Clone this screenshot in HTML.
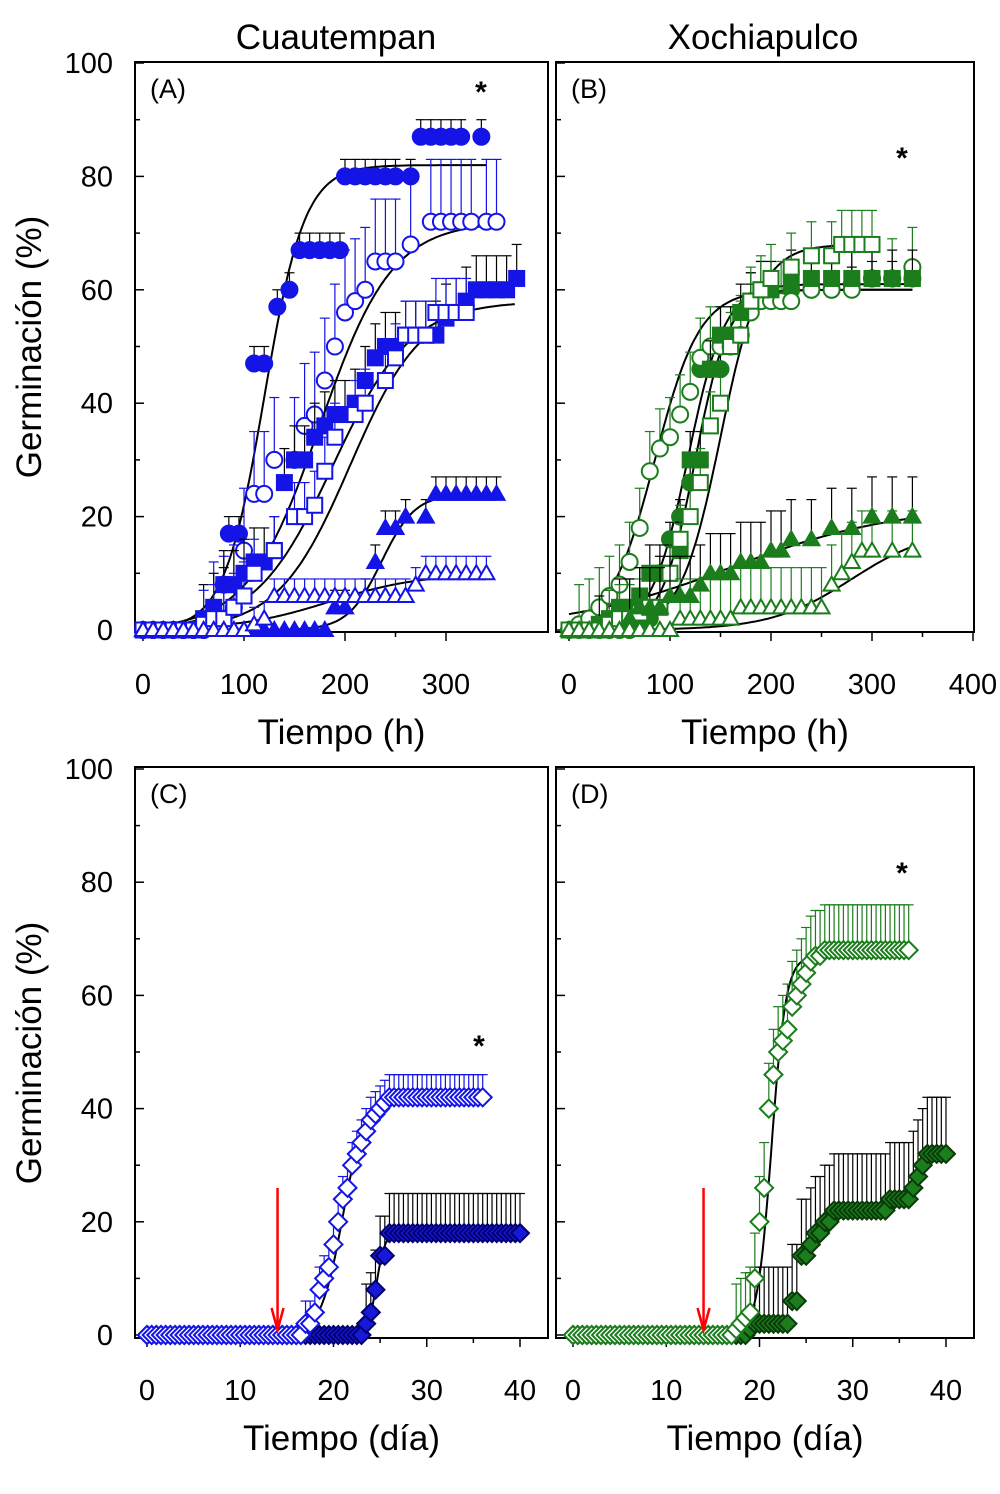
<!DOCTYPE html>
<html><head><meta charset="utf-8"><style>
body{margin:0;background:#fff}
svg text{font-family:"Liberation Sans",Arial,sans-serif}
</style></head><body>
<svg id="chart" width="1000" height="1489" viewBox="0 0 1000 1489" xmlns="http://www.w3.org/2000/svg"></svg>
<script>
// ---------- data ----------
const tA1=[0,10,20,30,40,50,60,70,80,85,95,110,120,133,145,155,165,175,185,195,200,210,220,230,240,250,265,275,285,295,305,315,335];
const yA1=[0,0,0,0,0,0,0,1,8,17,17,47,47,57,60,67,67,67,67,67,80,80,80,80,80,80,80,87,87,87,87,87,87];
const tA2=[0,10,20,30,40,50,60,70,80,90,100,110,120,130,150,160,170,180,190,200,210,220,230,240,250,265,285,295,305,315,325,340,350];
const yA2=[0,0,0,0,0,0,0,1,2,4,14,24,24,30,30,36,38,44,50,56,58,60,65,65,65,68,72,72,72,72,72,72,72];
const tA3=[0,10,20,30,40,50,60,70,80,90,100,110,120,130,140,150,160,170,180,190,200,210,220,230,240,250,260,270,280,290,300,310,320,330,340,350,360,370];
const yA3=[0,0,0,0,0,0,2,4,8,8,10,12,12,14,26,30,30,34,36,38,38,40,44,48,50,50,52,52,52,52,55,56,58,60,60,60,60,62];
const tA4=[0,10,20,30,40,50,60,70,80,90,100,110,130,150,160,170,180,190,210,220,240,250,260,270,280,290,300,310,320];
const yA4=[0,0,0,0,0,0,1,2,2,4,6,10,14,20,20,22,28,34,38,40,44,48,52,52,52,56,56,56,56];
const tA5=[0,10,20,30,40,50,60,70,80,90,100,110,120,130,140,150,160,170,180,190,200,220,230,240,250,260,280,290,300,310,320,330,340,350];
const yA5=[0,0,0,0,0,0,0,0,0,0,0,0,0,0,0,0,0,0,0,4,4,6,12,18,18,20,20,24,24,24,24,24,24,24];
const tA6=[0,10,20,30,40,50,60,70,80,90,100,110,120,130,140,150,160,170,180,190,200,210,220,230,240,250,260,270,280,290,300,310,320,330,340];
const yA6=[0,0,0,0,0,0,0,0,0,0,0,1,2,6,6,6,6,6,6,6,6,6,6,6,6,6,6,8,10,10,10,10,10,10,10];
const tB1=[0,10,20,30,40,50,60,70,80,90,100,110,120,130,140,150,160,170,180,190,200,220,240,260,280,300,320,340];
const yB1=[0,0,0,0,0,0,0,1,2,10,16,20,26,46,46,46,50,52,58,58,59,60,60,60,61,62,62,62];
const tB2=[0,10,20,30,40,50,60,70,80,90,100,110,120,130,140,150,160,170,180,190,200,210,220,240,260,280,300,320,340];
const yB2=[0,1,2,4,6,8,12,18,28,32,34,38,42,48,50,50,50,52,56,58,58,58,58,60,60,60,62,62,64];
const tB3=[0,10,20,30,40,50,60,70,80,90,100,110,120,130,140,150,160,170,180,190,200,220,240,260,280,300,320,340];
const yB3=[0,0,0,1,2,4,4,6,10,10,10,14,30,30,46,52,52,56,58,60,60,62,62,62,62,62,62,62];
const tB4=[0,10,20,30,40,50,60,70,80,90,100,110,120,130,140,150,160,170,180,190,200,220,240,260,270,280,290,300];
const yB4=[0,0,0,0,1,2,2,3,4,4,10,16,20,26,36,40,50,52,58,60,62,64,66,66,68,68,68,68];
const tB5=[0,10,20,30,40,50,60,70,80,90,100,110,120,130,140,150,160,170,180,190,200,210,220,240,260,280,300,320,340];
const yB5=[0,0,0,0,0,0,2,4,4,4,6,6,6,8,10,10,10,12,12,12,14,14,16,16,18,18,20,20,20];
const tB6=[0,10,20,30,40,50,60,70,80,90,100,110,120,130,140,150,160,170,180,190,200,210,220,230,240,250,260,270,280,290,300,320,340];
const yB6=[0,0,0,0,0,0,0,0,0,0,0,2,2,2,2,2,2,4,4,4,4,4,4,4,4,4,8,10,12,14,14,14,14];
const tC1=[];const yC1=[];
const tC2=[];const yC2=[];
const tD1=[];const yD1=[];
const tD2=[];const yD2=[];
const cC1=[[0,0],[16.5,0],[17,2],[17.5,2],[18,4],[18.5,8],[19,10],[19.5,12],[20,16],[20.5,20],[21,24],[21.5,26],[22,30],[22.5,32],[23,34],[23.5,36],[24,38],[24.5,39],[25,40],[25.5,41],[26,42],[36,42]];
const cC2=[[0,0],[23,0],[23.5,2],[24,4],[24.5,8],[25,14],[25.5,14],[26,18],[40,18]];
const cD1=[[0,0],[17,0],[17.5,1],[18,2],[18.5,3],[19,4],[19.5,10],[20,20],[20.5,26],[21,40],[21.5,46],[22,50],[22.5,52],[23,54],[23.5,58],[24,60],[24.5,62],[25,64],[25.5,66],[26,67],[27,68],[36,68]];
const cD2=[[0,0],[18.5,0],[19,1],[19.5,2],[23,2],[23.5,6],[24,6],[24.5,14],[25,14],[25.5,16],[26,18],[27,20],[28,22],[33.5,22],[34,24],[36,24],[36.5,26],[37,28],[37.5,30],[38,32],[40,32]];
function step(c,t){let v=0;for(const p of c){if(p[0]<=t+1e-9)v=p[1];}return v;}
for(let t=0;t<=36;t+=0.5){tC1.push(t);yC1.push(step(cC1,t));}
for(let t=0;t<=40;t+=0.5){tC2.push(t);yC2.push(step(cC2,t));}
for(let t=0;t<=36;t+=0.5){tD1.push(t);yD1.push(step(cD1,t));}
for(let t=0;t<=40;t+=0.5){tD2.push(t);yD2.push(step(cD2,t));}
// logistic fit params: [asymptote, midpoint, rate, xmax]
const fitA=[[82,120,0.05,340],[72,175,0.028,350],[58,188,0.026,370],[58,205,0.028,320],[24,236,0.06,350],[10,185,0.022,340]];
const fitB=[[60,125,0.06,340],[60,85,0.045,340],[61,118,0.055,340],[68,150,0.05,300],[22,160,0.012,340],[18,280,0.025,340]];
const fitC=[[42,21,0.85,36],[18,24.6,2.2,40]];
const fitD=[[67,21.3,1.3,36],[0,0,0,0]];
const errA=[3,11,6,6,3,3],errB=[3,7,5,6,7,7],errC=[4,7],errD=[8,10];
// ---------- drawing ----------
const svg=document.getElementById('chart');const NS='http://www.w3.org/2000/svg';
function el(tag,at,parent){const e=document.createElementNS(NS,tag);for(const k in at)e.setAttribute(k,at[k]);(parent||svg).appendChild(e);return e;}
const BLUE='#1414e6',GREEN='#1b7d1b';
function panel(name,box,xMax,xStep,xMinor,series,fits,errs,letter,xLab,xTickMax,showY){
  const g=el('g',{});
  const X=v=>box.x0+(v/xMax)*(box.x1-box.x0), Y=v=>box.y0-(v/100)*(box.y0-box.y100);
  el('rect',{x:box.l,y:box.t,width:box.r-box.l,height:box.b-box.t,fill:'none',stroke:'#000','stroke-width':2},g);
  for(let v=0;v<=100;v+=10){el('line',{x1:box.l,x2:box.l+(v%20?5:9),y1:Y(v),y2:Y(v),stroke:'#000','stroke-width':1.5},g);}
  for(let v=0;v<=xTickMax+1e-9;v+=xMinor){el('line',{x1:X(v),x2:X(v),y1:box.b,y2:box.b+(Math.abs(v/xStep-Math.round(v/xStep))<1e-6?9:5),stroke:'#000','stroke-width':1.5},g);}
  fits.forEach((f,i)=>{if(!f[0])return;let d='';for(let t=0;t<=f[3];t+=f[3]/200){const v=f[0]/(1+Math.exp(-f[2]*(t-f[1])));d+=(d?'L':'M')+X(t).toFixed(1)+','+Y(v).toFixed(1);}
    const p=el('path',{d,fill:'none',stroke:'#000','stroke-width':2},g);});
  series.forEach((s,si)=>{
    const sg=el('g',{},g);
    s.t.forEach((t,i)=>{const x=X(t),y=Y(s.y[i]);const e=s.y[i]>0?errs[si]:0;
      if(e){const ye=Y(s.y[i]+e);const ec=s.fill?'#000':s.col;el('line',{x1:x,x2:x,y1:y,y2:ye,stroke:ec,'stroke-width':1.2},sg);el('line',{x1:x-5,x2:x+5,y1:ye,y2:ye,stroke:ec,'stroke-width':1.2},sg);}
    });
    s.t.forEach((t,i)=>{const x=X(t),y=Y(s.y[i]);const fl=s.fill?s.col:'#fff';const sw=2;let m;const r=s.shape==='d'?9:8;
      if(s.shape==='c')m=el('circle',{cx:x,cy:y,r:r,fill:fl,stroke:s.col,'stroke-width':sw},sg);
      else if(s.shape==='s')m=el('rect',{x:x-r+0.5,y:y-r+0.5,width:2*r-1,height:2*r-1,fill:fl,stroke:s.col,'stroke-width':sw},sg);
      else if(s.shape==='t')m=el('polygon',{points:`${x},${y-r} ${x+r},${y+r*0.75} ${x-r},${y+r*0.75}`,fill:fl,stroke:s.col,'stroke-width':sw},sg);
      else m=el('polygon',{points:`${x},${y-r} ${x+r},${y} ${x},${y+r} ${x-r},${y}`,fill:fl,stroke:s.fill?s.edge:s.col,'stroke-width':sw},sg);
      });
  });
  const lt=el('text',{x:box.l+15,y:box.t+36,'font-size':27},g);lt.textContent=letter;
  if(showY)for(let v=0;v<=100;v+=20){const t=el('text',{x:box.l-22,y:Y(v)+10,'font-size':29,'text-anchor':'end'},g);t.textContent=v;}
  for(let v=0;v<=xTickMax+1e-9;v+=xStep){const t=el('text',{x:X(v),y:box.b+62,'font-size':29,'text-anchor':'middle'},g);t.textContent=v;}
  const xt=el('text',{x:(box.l+box.r)/2,y:box.b+112,'font-size':35,'text-anchor':'middle'},g);xt.textContent=xLab;
  return {X,Y,g};
}
function S(name,t,y,col,shape,fill,edge){return {name,t,y,col,shape,fill,edge};}
panel('panel-a',{l:135,r:548,t:62,b:632,x0:143,x1:446,y0:630,y100:63},300,100,50,
 [S('a-filled-circle',tA1,yA1,BLUE,'c',1),S('a-open-circle',tA2,yA2,BLUE,'c',0),S('a-filled-square',tA3,yA3,BLUE,'s',1),S('a-open-square',tA4,yA4,BLUE,'s',0),S('a-filled-triangle',tA5,yA5,BLUE,'t',1),S('a-open-triangle',tA6,yA6,BLUE,'t',0)],
 fitA,errA,'(A)','Tiempo (h)',300,true);
panel('panel-b',{l:556,r:974,t:62,b:632,x0:569,x1:872,y0:630,y100:63},300,100,50,
 [S('b-filled-circle',tB1,yB1,GREEN,'c',1),S('b-open-circle',tB2,yB2,GREEN,'c',0),S('b-filled-square',tB3,yB3,GREEN,'s',1),S('b-open-square',tB4,yB4,GREEN,'s',0),S('b-filled-triangle',tB5,yB5,GREEN,'t',1),S('b-open-triangle',tB6,yB6,GREEN,'t',0)],
 fitB,errB,'(B)','Tiempo (h)',400,false);
const pc=panel('panel-c',{l:135,r:548,t:767,b:1338,x0:147,x1:520,y0:1335,y100:769},40,10,5,
 [S('c-filled-diamond',tC2,yC2,'#1818d8','d',1,'#000070'),S('c-open-diamond',tC1,yC1,BLUE,'d',0)],
 [fitC[1],fitC[0]],[errC[1],errC[0]],'(C)','Tiempo (día)',40,true);
const pd=panel('panel-d',{l:556,r:974,t:767,b:1338,x0:573,x1:946,y0:1335,y100:769},40,10,5,
 [S('d-filled-diamond',tD2,yD2,GREEN,'d',1,'#0a3a0a'),S('d-open-diamond',tD1,yD1,GREEN,'d',0)],
 [fitD[1],fitD[0]],[errD[1],errD[0]],'(D)','Tiempo (día)',40,false);
[[pc,'arrow-c'],[pd,'arrow-d']].forEach(([p,n])=>{const x=p.X(14);const a=el('g',{});
 el('line',{x1:x,x2:x,y1:1188,y2:1328,stroke:'#f00','stroke-width':2.5},a);el('polyline',{points:`${x-6},${1308} ${x},${1330} ${x+6},${1308}`,fill:'none',stroke:'#f00','stroke-width':2.5},a);});
function txt(s,at,name){const t=el('text',at);t.textContent=s;return t;}
txt('Cuautempan',{x:336,y:49,'font-size':35,'text-anchor':'middle'},'title-cuautempan');
txt('Xochiapulco',{x:763,y:49,'font-size':35,'text-anchor':'middle'},'title-xochiapulco');
txt('Germinación (%)',{x:0,y:0,'font-size':35,'text-anchor':'middle',transform:'translate(41,347) rotate(-90)'},'y-axis-title-top');
txt('Germinación (%)',{x:0,y:0,'font-size':35,'text-anchor':'middle',transform:'translate(41,1053) rotate(-90)'},'y-axis-title-bottom');
[[481,102],[902,168],[479,1056],[902,883]].forEach((p,i)=>txt('*',{x:p[0],y:p[1],'font-size':30,'text-anchor':'middle','font-weight':'bold'},'significance-asterisk-'+(i+1)));
</script>
</body></html>
